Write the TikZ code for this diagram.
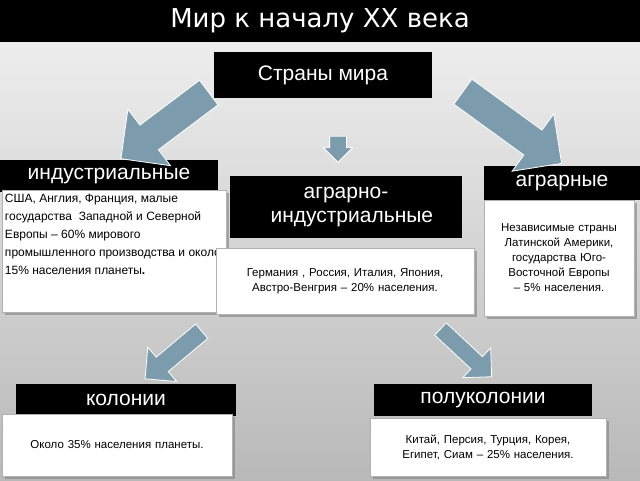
\documentclass[tikz,border=0pt]{standalone}
\usepackage{fontspec}
\setmainfont{Liberation Sans}
\newfontfamily\titlefont{DejaVu Sans}
\usetikzlibrary{shapes.arrows,shadows}
\definecolor{arrowblue}{HTML}{7C9CAE}
\tikzset{
  headbox/.style={fill=black, text=white, inner sep=0pt, font=\fontsize{21}{24}\selectfont, align=center},
  infobox/.style={fill=white, draw=gray!60, drop shadow={opacity=0.6}, inner sep=3pt, font=\fontsize{11.5}{15}\selectfont, text=black},
  bigarrow/.style={single arrow, fill=arrowblue, draw=white, thick, inner sep=0pt, single arrow head extend=#1}
}
\begin{document}
\begin{tikzpicture}[x=1pt,y=1pt]
  \shade[top color=gray!10, bottom color=gray!55] (0,0) rectangle (640,480);
  \useasboundingbox (0,0) rectangle (640,480);
  \fill[black] (0,438) rectangle (640,480);
  \node (title) at (320,459) [text=white, font=\titlefont\fontsize{26}{30}\selectfont] {Мир к началу XX века};
  % top
  \node (world) at (323,405) [headbox, minimum width=218, minimum height=46] {Страны мира};
  % three groups
  \node (ind) at (109,304) [headbox, minimum width=218, minimum height=32] {индустриальные};
  \node (indtxt) at (114,229) [infobox, minimum width=224, minimum height=122, font=\fontsize{12}{18}\selectfont]
    {\parbox[t][114pt][t]{218pt}{\raggedright США, Англия, Франция, малые государства \ Западной и Северной Европы -- 60\% мирового промышленного производства и около 15\% населения планеты\textbf{.}}};
  \node (agrind) at (346,273) [headbox, minimum width=232, minimum height=62] {аграрно-\\ \ \ индустриальные};
  \node (agrindtxt) at (345,199) [infobox, minimum width=258, minimum height=66, text width=250, align=center]
    {Германия , Россия, Италия, Япония, Австро-Венгрия -- 20\% населения.};
  \node (agr) at (562,297) [headbox, minimum width=156, minimum height=34] {аграрные};
  \node (agrtxt) at (559,222) [infobox, minimum width=150, minimum height=116, text width=142, align=center]
    {Независимые страны Латинской Америки, государства Юго-Восточной Европы -- 5\% населения.};
  % bottom
  \node (col) at (126,80) [headbox, minimum width=220, minimum height=32] {колонии};
  \node (coltxt) at (117,35) [infobox, minimum width=230, minimum height=62, text width=222, align=center]
    {Около 35\% населения планеты.};
  \node (semi) at (483,80) [headbox, minimum width=218, minimum height=32] {полуколонии};
  \node (semitxt) at (488,33) [infobox, minimum width=236, minimum height=58, text width=228, align=center]
    {Китай, Персия, Турция, Корея, Египет, Сиам -- 25\% населения.};
  % arrows
  \node (arrind) at (171,359) [bigarrow=20pt, minimum height=110, inner ysep=15pt, rotate=-143] {};
  \node (arragr) at (506,357) [bigarrow=20pt, minimum height=122, inner ysep=15pt, rotate=-36] {};
  \node (arrmid) at (338,335) [bigarrow=6pt, minimum height=26, inner ysep=8pt, rotate=-90] {};
  \node (arrcol) at (177,128) [bigarrow=13pt, minimum height=74, inner ysep=9pt, rotate=-140] {};
  \node (arrsemi) at (463,130) [bigarrow=12pt, minimum height=70, inner ysep=8pt, rotate=-43] {};
\end{tikzpicture}
\end{document}
